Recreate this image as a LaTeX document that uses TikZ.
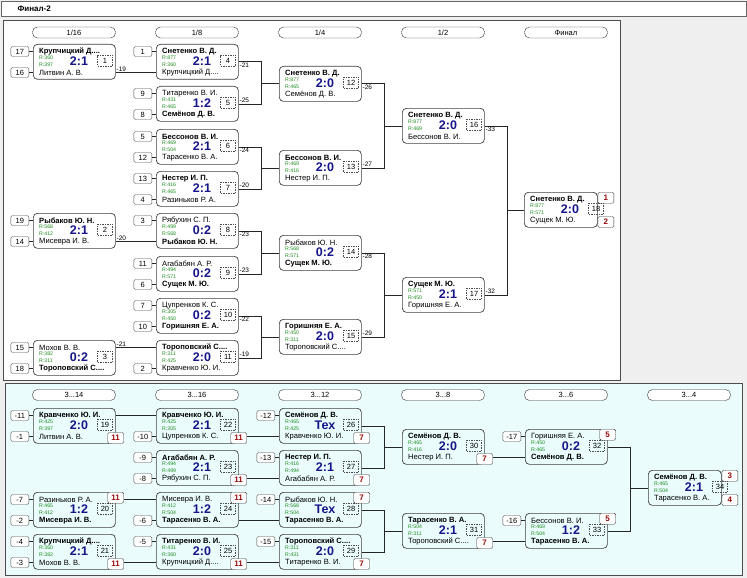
\documentclass[tikz,border=0pt]{standalone}
\usepackage{fontspec}
\setmainfont{Liberation Sans}

\definecolor{bggray}{HTML}{EFEFEF}
\definecolor{lowbg}{HTML}{EAFCFC}
\definecolor{rgreen}{HTML}{1E8C1E}
\definecolor{scoreblue}{HTML}{16168A}
\definecolor{placered}{HTML}{9B0A0A}

\tikzset{
  matchbox/.style={draw=black!75, line width=0.7pt, rounded corners=4pt, minimum width=82pt, minimum height=35pt, anchor=north west, inner sep=0pt},
  final/.style={minimum width=73pt},
  pname/.style={anchor=west, inner sep=0pt, font=\fontsize{7.6}{8}\selectfont},
  rating/.style={anchor=west, inner sep=0pt, text=rgreen, font=\fontsize{5.2}{6}\selectfont},
  score/.style={inner sep=0pt, text=scoreblue, font=\fontsize{12.5}{13}\selectfont\bfseries},
  numbox/.style={draw=black!70, dash pattern=on 1.5pt off 1pt, minimum width=15pt, minimum height=11pt, inner sep=0pt, font=\fontsize{7.5}{8}\selectfont},
  seedbox/.style={draw=black!70, fill=white, rounded corners=1.5pt, minimum width=18pt, minimum height=10pt, inner sep=0pt, font=\fontsize{7.5}{8}\selectfont},
  placebox/.style={draw=black!80, fill=white, rounded corners=1.5pt, minimum width=16pt, minimum height=11pt, inner sep=0pt, text=placered, font=\fontsize{8}{8}\selectfont\bfseries},
  colhead/.style={draw=black!80, fill=white, rounded corners=5pt, minimum width=83pt, minimum height=11pt, inner sep=0pt, font=\fontsize{7.5}{8}\selectfont},
  lost/.style={inner sep=0.8pt, font=\fontsize{6.5}{7}\selectfont},
  link/.style={draw=black!85, line width=0.7pt},
}

% one match: name, top-left corner, player 1, R1, R2, player 2, score, number
\newcommand{\drawmatch}[9][]{%
  \node[matchbox,#1] (#2) at #3 {};
  \node[pname] (#2-a) at ([shift={(6,7.5)}]#2.north west) {#4};
  \node[rating] (#2-ra) at ([shift={(6,14)}]#2.north west) {R:#5};
  \node[rating] (#2-rb) at ([shift={(6,21)}]#2.north west) {R:#6};
  \node[pname] (#2-b) at ([shift={(6,28.5)}]#2.north west) {#7};
  \node[score] (#2-s) at ([shift={(46,17)}]#2.north west) {#8};
  \node[numbox] (#2-n) at ([shift={(72,16.5)}]#2.north west) {#9};
}

\begin{document}
\begin{tikzpicture}[x=1pt, y=-1pt, font=\fontsize{8}{9}\selectfont]
  \useasboundingbox (0,0) rectangle (747,578);
  % panels
  \fill[bggray] (0,0) rectangle (747,578);
  \draw[black!60, fill=white] (1,1) rectangle (746,16);
  \node[anchor=west, font=\fontsize{8}{9}\selectfont\bfseries] (title) at (14,9) {Финал-2};
  \draw[black!70, fill=white] (3,20) rectangle (620,380);
  \draw[black!70, fill=lowbg] (5,383) rectangle (742,575);

  % column heads
  \foreach \t [count=\i] in {1/16,1/8,1/4,1/2,Финал}
    \node[colhead] (h\i) at (74+123*\i-123,32.5) {\t};
  \foreach \n [count=\i] in {14,16,12,8,6,4}
    \node[colhead] (g\i) at (74+123*\i-123,395) {3...\n};

  % main draw
  \drawmatch{m1}{(33,44)}{\bfseries Крупчицкий Д....}{360}{397}{Литвин А. В.}{2:1}{1}
  \drawmatch{m2}{(33,213)}{\bfseries Рыбаков Ю. Н.}{568}{412}{Мисевра И. В.}{2:1}{2}
  \drawmatch{m3}{(33,340)}{Мохов В. В.}{382}{311}{\bfseries Тороповский С....}{0:2}{3}
  \drawmatch{m4}{(156,44)}{\bfseries Снетенко В. Д.}{877}{360}{Крупчицкий Д....}{2:1}{4}
  \drawmatch{m5}{(156,86)}{Титаренко В. И.}{431}{465}{\bfseries Семёнов Д. В.}{1:2}{5}
  \drawmatch{m6}{(156,129)}{\bfseries Бессонов В. И.}{469}{504}{Тарасенко В. А.}{2:1}{6}
  \drawmatch{m7}{(156,171)}{\bfseries Нестер И. П.}{416}{465}{Разиньков Р. А.}{2:1}{7}
  \drawmatch{m8}{(156,213)}{Рябухин С. П.}{499}{568}{\bfseries Рыбаков Ю. Н.}{0:2}{8}
  \drawmatch{m9}{(156,256)}{Агабабян А. Р.}{494}{571}{\bfseries Сущек М. Ю.}{0:2}{9}
  \drawmatch{m10}{(156,298)}{Цупренков К. С.}{305}{450}{\bfseries Горишняя Е. А.}{0:2}{10}
  \drawmatch{m11}{(156,340)}{\bfseries Тороповский С....}{311}{425}{Кравченко Ю. И.}{2:0}{11}
  \drawmatch{m12}{(279,66)}{\bfseries Снетенко В. Д.}{877}{465}{Семёнов Д. В.}{2:0}{12}
  \drawmatch{m13}{(279,150)}{\bfseries Бессонов В. И.}{469}{416}{Нестер И. П.}{2:0}{13}
  \drawmatch{m14}{(279,235)}{Рыбаков Ю. Н.}{568}{571}{\bfseries Сущек М. Ю.}{0:2}{14}
  \drawmatch{m15}{(279,319)}{\bfseries Горишняя Е. А.}{450}{311}{Тороповский С....}{2:0}{15}
  \drawmatch{m16}{(402,108)}{\bfseries Снетенко В. Д.}{877}{469}{Бессонов В. И.}{2:0}{16}
  \drawmatch{m17}{(402,277)}{\bfseries Сущек М. Ю.}{571}{450}{Горишняя Е. А.}{2:1}{17}
  \drawmatch[final]{m18}{(524,192)}{\bfseries Снетенко В. Д.}{877}{571}{Сущек М. Ю.}{2:0}{18}

  % consolation draw
  \drawmatch{m19}{(33,408)}{\bfseries Кравченко Ю. И.}{425}{397}{Литвин А. В.}{2:0}{19}
  \drawmatch{m20}{(33,492)}{Разиньков Р. А.}{465}{412}{\bfseries Мисевра И. В.}{1:2}{20}
  \drawmatch{m21}{(33,534)}{\bfseries Крупчицкий Д....}{360}{382}{Мохов В. В.}{2:1}{21}
  \drawmatch{m22}{(156,408)}{\bfseries Кравченко Ю. И.}{425}{305}{Цупренков К. С.}{2:1}{22}
  \drawmatch{m23}{(156,450)}{\bfseries Агабабян А. Р.}{494}{499}{Рябухин С. П.}{2:1}{23}
  \drawmatch{m24}{(156,492)}{Мисевра И. В.}{412}{504}{\bfseries Тарасенко В. А.}{1:2}{24}
  \drawmatch{m25}{(156,534)}{\bfseries Титаренко В. И.}{431}{360}{Крупчицкий Д....}{2:0}{25}
  \drawmatch{m26}{(279,408)}{\bfseries Семёнов Д. В.}{465}{425}{Кравченко Ю. И.}{Тех}{26}
  \drawmatch{m27}{(279,450)}{\bfseries Нестер И. П.}{416}{494}{Агабабян А. Р.}{2:1}{27}
  \drawmatch{m28}{(279,492)}{Рыбаков Ю. Н.}{568}{504}{\bfseries Тарасенко В. А.}{Тех}{28}
  \drawmatch{m29}{(279,534)}{\bfseries Тороповский С....}{311}{431}{Титаренко В. И.}{2:0}{29}
  \drawmatch{m30}{(402,429)}{\bfseries Семёнов Д. В.}{465}{416}{Нестер И. П.}{2:0}{30}
  \drawmatch{m31}{(402,513)}{\bfseries Тарасенко В. А.}{504}{311}{Тороповский С....}{2:1}{31}
  \drawmatch{m32}{(525,429)}{Горишняя Е. А.}{450}{465}{\bfseries Семёнов Д. В.}{0:2}{32}
  \drawmatch{m33}{(525,513)}{Бессонов В. И.}{469}{504}{\bfseries Тарасенко В. А.}{1:2}{33}
  \drawmatch[final]{m34}{(648,470)}{\bfseries Семёнов Д. В.}{465}{504}{Тарасенко В. А.}{2:1}{34}

  % seeds
  \foreach \m/\r/\v in {m1/a/17, m1/b/16, m2/a/19, m2/b/14, m3/a/15, m3/b/18,
      m4/a/1, m5/a/9, m5/b/8, m6/a/5, m6/b/12, m7/a/13, m7/b/4, m8/a/3,
      m9/a/11, m9/b/6, m10/a/7, m10/b/10, m11/b/2,
      m19/a/-11, m19/b/-1, m20/a/-7, m20/b/-2, m21/a/-4, m21/b/-3,
      m22/b/-10, m23/a/-9, m23/b/-8, m24/b/-6, m25/a/-5,
      m26/a/-12, m27/a/-13, m28/a/-14, m29/a/-15, m32/a/-17, m33/a/-16}{
    \node[seedbox, anchor=east, xshift=-4pt] (\m-s\r) at (\m-\r -| \m.west) {\v};
    \draw[link] (\m-s\r) -- (\m-\r -| \m.west);
  }

  % places
  \foreach \m/\c/\a/\v in {m18/north east/north west/1, m18/south east/south west/2,
      m19/south east/south/11, m20/north east/north/11, m21/south east/south/11,
      m22/south east/south/11, m23/south east/south/11, m24/north east/north/11,
      m25/south east/south/11, m26/south east/south/7, m27/south east/south/7,
      m28/north east/north/7, m29/south east/south/7, m30/south east/south/7,
      m31/south east/south/7, m32/north east/north/5, m33/north east/north/5,
      m34/north east/north west/3, m34/south east/south west/4}
    \node[placebox, anchor=\a] (\m-p\v) at (\m.\c) {\v};

  % straight links
  \draw[link] (m4-b -| m1.east) -- (m4-b -| m4.west);
  \draw[link] (m8-b -| m2.east) -- (m8-b -| m8.west);
  \draw[link] (m11-a -| m3.east) -- (m11-a -| m11.west);
  \draw[link] (m22-a -| m19.east) -- (m22-a -| m22.west);
  \draw[link] (m24-a -| m20-p11.east) -- (m24-a -| m24.west);
  \draw[link] (m25-b -| m21-p11.east) -- (m25-b -| m25.west);
  \draw[link] (m26-b -| m22-p11.east) -- (m26-b -| m26.west);
  \draw[link] (m27-b -| m23-p11.east) -- (m27-b -| m27.west);
  \draw[link] (m28-b -| m24.east) -- (m28-b -| m28.west);
  \draw[link] (m29-b -| m25-p11.east) -- (m29-b -| m29.west);
  \draw[link] (m32-b -| m30-p7.east) -- (m32-b -| m32.west);
  \draw[link] (m33-b -| m31-p7.east) -- (m33-b -| m33.west);

  % brackets
  \foreach \u/\v/\w in {m4/m5/m12, m6/m7/m13, m8/m9/m14, m10/m11/m15,
      m12/m13/m16, m14/m15/m17, m16/m17/m18, m26/m27/m30, m28/m29/m31, m32/m33/m34}{
    \draw[link] (\u.east) -- ++(23,0) |- (\w.west);
    \draw[link] (\v.east) -- ++(23,0) |- (\w.west);
  }

  % where the loser goes
  \node[lost, anchor=south west] (m1-l) at (m4-b -| m1.east) {-19};
  \node[lost, anchor=south west] (m2-l) at (m8-b -| m2.east) {-20};
  \node[lost, anchor=south west] (m3-l) at (m11-a -| m3.east) {-21};
  \foreach \m/\t/\a in {m4/-21/north west, m5/-25/south west, m6/-24/north west,
      m7/-20/south west, m8/-23/north west, m9/-23/south west, m10/-22/north west,
      m11/-19/south west, m12/-26/north west, m13/-27/south west, m14/-28/north west,
      m15/-29/south west, m16/-33/north west, m17/-32/south west}
    \node[lost, anchor=\a] (\m-l) at (\m.east) {\t};
\end{tikzpicture}
\end{document}
